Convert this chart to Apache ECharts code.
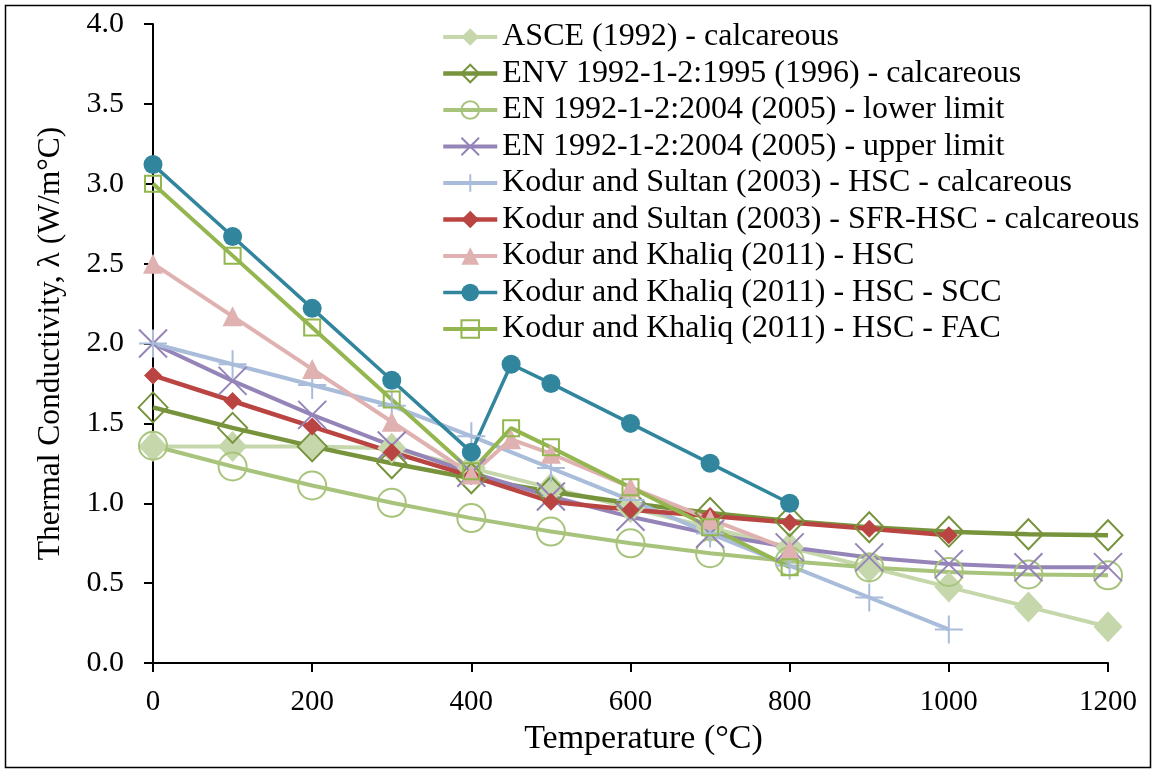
<!DOCTYPE html>
<html>
<head>
<meta charset="utf-8">
<script src="https://cdn.jsdelivr.net/npm/echarts@6/dist/echarts.min.js"></script>
<style>
  html, body { margin: 0; padding: 0; background: #fff; }
  #chart { width: 1153px; height: 771px; }
</style>
</head>
<body>
<div id="chart"></div>
<script>
// Temperatures (°C) at which each model is evaluated
const tempCodes = [0, 100, 200, 300, 400, 500, 600, 700, 800, 900, 1000, 1100, 1200];
const tempSultan = [0, 100, 200, 300, 400, 500, 600, 700, 800, 900, 1000];
const tempKhaliq = [0, 100, 200, 300, 400, 450, 500, 600, 700, 800];

// Thermal conductivity λ (W/m°C)
const asce1992 = [1.355, 1.355, 1.355, 1.344, 1.22, 1.096, 0.972, 0.847, 0.723, 0.599, 0.475, 0.351, 0.227];
const env1995 = [1.6, 1.472, 1.356, 1.25, 1.156, 1.072, 1.0, 0.939, 0.889, 0.85, 0.822, 0.806, 0.8];
const enLower = [1.36, 1.23, 1.111, 1.003, 0.907, 0.823, 0.749, 0.687, 0.637, 0.598, 0.57, 0.554, 0.549];
const enUpper = [2.0, 1.766, 1.553, 1.361, 1.191, 1.042, 0.915, 0.809, 0.724, 0.661, 0.619, 0.599, 0.6];
const sultanHSC = [2.0, 1.87, 1.74, 1.61, 1.42, 1.22, 1.02, 0.81, 0.61, 0.41, 0.21];
const sultanSFR = [1.8, 1.64, 1.48, 1.32, 1.17, 1.01, 0.96, 0.92, 0.88, 0.84, 0.8];
const khaliqHSC = [2.5, 2.17, 1.84, 1.51, 1.18, 1.4, 1.31, 1.1, 0.9, 0.71];
const khaliqSCC = [3.12, 2.67, 2.22, 1.77, 1.32, 1.87, 1.75, 1.5, 1.25, 1.0];
const khaliqFAC = [3.0, 2.55, 2.1, 1.65, 1.2, 1.47, 1.35, 1.1, 0.85, 0.6];

const seriesNames = [
  'ASCE (1992) - calcareous',
  'ENV 1992-1-2:1995 (1996) - calcareous',
  'EN 1992-1-2:2004 (2005) - lower limit',
  'EN 1992-1-2:2004 (2005) - upper limit',
  'Kodur and Sultan (2003) - HSC - calcareous',
  'Kodur and Sultan (2003) - SFR-HSC - calcareous',
  'Kodur and Khaliq (2011) - HSC',
  'Kodur and Khaliq (2011) - HSC - SCC',
  'Kodur and Khaliq (2011) - HSC - FAC'
];

const FONT = '"Liberation Serif", "Times New Roman", serif';
const CROSS = 'path://M0,0L20,20M20,0L0,20';
const PLUS = 'path://M10,0L10,20M0,10L20,10';

function pairs(xs, ys) {
  return xs.map((x, i) => [x, ys[i]]);
}

// filled marker
function solid(name, xs, ys, color, symbol, size, width) {
  return {
    name, type: 'line', data: pairs(xs, ys), clip: false,
    symbol, symbolSize: size, showAllSymbol: true,
    lineStyle: { color, width },
    itemStyle: { color, borderWidth: 0 },
    emphasis: { disabled: true }
  };
}

// outline-only marker (no fill)
function hollow(name, xs, ys, color, symbol, size, width, stroke) {
  return {
    name, type: 'line', data: pairs(xs, ys), clip: false,
    symbol, symbolSize: size, showAllSymbol: true,
    lineStyle: { color, width },
    itemStyle: { color: 'rgba(0,0,0,0)', borderColor: color, borderWidth: stroke },
    emphasis: { disabled: true }
  };
}

const chart = echarts.init(document.getElementById('chart'), null, { renderer: 'canvas' });

chart.setOption({
  animation: false,
  backgroundColor: '#fff',
  textStyle: { fontFamily: FONT, color: '#000' },
  graphic: [{
    type: 'rect',
    shape: { x: 5.5, y: 5.5, width: 1145, height: 762 },
    style: { fill: 'none', stroke: '#000', lineWidth: 1.5 },
    silent: true, z: -10
  }],
  grid: { left: 153, right: 45, top: 24, bottom: 108, containLabel: false },
  legend: {
    orient: 'vertical',
    left: 441,
    top: 21,
    padding: 0,
    itemWidth: 54,
    itemHeight: 22,
    itemGap: 4.5,
    selectedMode: false,
    lineStyle: { width: 'inherit' },
    textStyle: { fontFamily: FONT, fontSize: 32, color: '#000', lineHeight: 32 },
    data: seriesNames
  },
  xAxis: {
    type: 'value',
    min: 0, max: 1200, interval: 200,
    name: 'Temperature (°C)',
    nameLocation: 'middle',
    nameGap: 46,
    nameTextStyle: { fontFamily: FONT, fontSize: 34, color: '#000', padding: [0, 0, 0, 26] },
    axisLine: { show: true, onZero: false, lineStyle: { color: '#000', width: 2 } },
    axisTick: { show: true, inside: false, length: 9, lineStyle: { color: '#000', width: 2 } },
    axisLabel: { fontFamily: FONT, fontSize: 29, color: '#000', margin: 25, formatter: v => String(v) },
    splitLine: { show: false }
  },
  yAxis: {
    type: 'value',
    min: 0, max: 4, interval: 0.5,
    name: 'Thermal Conductivity, λ (W/m°C)',
    nameLocation: 'middle',
    nameGap: 86,
    nameTextStyle: { fontFamily: FONT, fontSize: 31.5, color: '#000' },
    axisLine: { show: true, onZero: false, lineStyle: { color: '#000', width: 2 } },
    axisTick: { show: true, inside: false, length: 9, lineStyle: { color: '#000', width: 2 } },
    axisLabel: { fontFamily: FONT, fontSize: 30, color: '#000', margin: 29, formatter: v => v.toFixed(1) },
    splitLine: { show: false }
  },
  series: [
    solid(seriesNames[0], tempCodes, asce1992, '#c5d7ab', 'diamond', [29, 31], 4),
    hollow(seriesNames[1], tempCodes, env1995, '#77933c', 'diamond', [29, 30], 4.5, 2),
    hollow(seriesNames[2], tempCodes, enLower, '#a8c47c', 'circle', 28, 4, 2),
    hollow(seriesNames[3], tempCodes, enUpper, '#9584b8', CROSS, 28, 4, 2),
    hollow(seriesNames[4], tempSultan, sultanHSC, '#a9bddb', PLUS, 28, 4, 2),
    solid(seriesNames[5], tempSultan, sultanSFR, '#b94441', 'diamond', 18, 4.5),
    solid(seriesNames[6], tempKhaliq, khaliqHSC, '#dfb1b0', 'triangle', 20, 4),
    solid(seriesNames[7], tempKhaliq, khaliqSCC, '#31859c', 'circle', 19, 3.5),
    hollow(seriesNames[8], tempKhaliq, khaliqFAC, '#93b64f', 'rect', 16, 4, 2)
  ]
});
</script>
</body>
</html>
